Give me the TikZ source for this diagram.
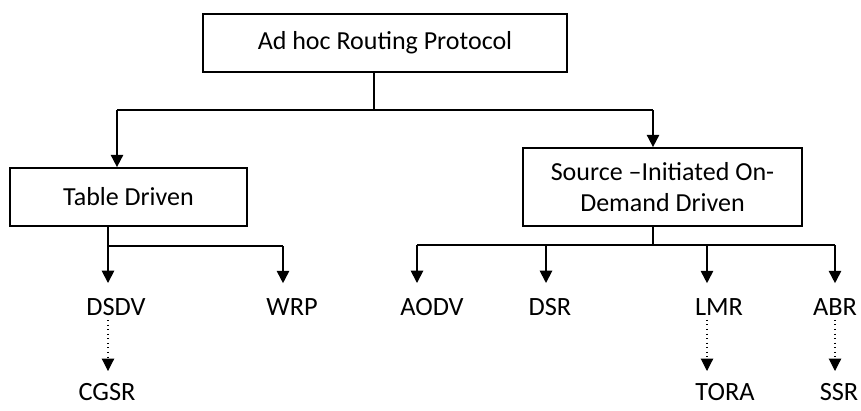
\documentclass[tikz,border=0pt]{standalone}
\usepackage{fontspec}
\setmainfont{Carlito}
\usetikzlibrary{arrows.meta}

\begin{document}
\begin{tikzpicture}[x=0.02cm,y=-0.02cm,
	box/.style={draw=black,line width=1pt,inner sep=0pt,align=center,font=\fontsize{14.8}{17.6}\selectfont},
	lbl/.style={inner sep=0pt,font=\fontsize{15}{18}\selectfont},
	line/.style={line width=1pt},
	arr/.style={line width=1pt,-{Triangle[width=7pt,length=7pt]},shorten >=0.3cm},
	dotarr/.style={line width=0.6pt,dotted,-{Triangle[width=7pt,length=7pt]},shorten <=0.08cm,shorten >=0.24cm}]
	\useasboundingbox (0,0) rectangle (861,410);

	\node[box,minimum width=7.28cm,minimum height=1.16cm] (root) at (385,43) {Ad hoc Routing Protocol};
	\node[box,minimum width=4.74cm,minimum height=1.16cm] (td) at (128.5,197) {Table Driven};
	\node[box,minimum width=5.58cm,minimum height=1.56cm] (src) at (662.5,187) {Source –Initiated On-\\Demand Driven};

	\node[lbl] (dsdv) at (116,307) {DSDV};
	\node[lbl] (wrp)  at (292,307) {WRP};
	\node[lbl] (aodv) at (432,307) {AODV};
	\node[lbl] (dsr)  at (550,307) {DSR};
	\node[lbl] (lmr)  at (719,307) {LMR};
	\node[lbl] (abr)  at (835,307) {ABR};
	\node[lbl] (cgsr) at (107,392) {CGSR};
	\node[lbl] (tora) at (725,392) {TORA};
	\node[lbl] (ssr)  at (839,392) {SSR};

	\coordinate (rootj) at (374,110);
	\coordinate (tdin)  at (117,110);
	\coordinate (srcin) at (653,110);
	\coordinate (tdj)   at (108,246);
	\coordinate (wrpj)  at (283,246);
	\coordinate (srcj)  at (653,245);
	\coordinate (aodvj) at (417,245);
	\coordinate (dsrj)  at (546,245);
	\coordinate (lmrj)  at (707,245);
	\coordinate (abrj)  at (835,245);

	\draw[line] (root.south -| rootj) -- (rootj);
	\draw[line] (tdin) -- (srcin);
	\draw[arr,shorten >=0pt] (tdin) -- (tdin |- td.north);
	\draw[arr,shorten >=0pt] (srcin) -- (srcin |- src.north);

	\draw[arr] (td.south -| tdj) -- (tdj |- dsdv.north);
	\draw[line] (tdj) -- (wrpj);
	\draw[arr] (wrpj) -- (wrpj |- wrp.north);

	\draw[line] (src.south -| srcj) -- (srcj);
	\draw[line] (aodvj) -- (abrj);
	\foreach \j/\n in {aodvj/aodv,dsrj/dsr,lmrj/lmr,abrj/abr}
		\draw[arr] (\j) -- (\j |- \n.north);

	\draw[dotarr] (dsdv.south -| tdj) -- (cgsr.north -| tdj);
	\draw[dotarr] (lmr.south -| lmrj) -- (tora.north -| lmrj);
	\draw[dotarr] (abr.south -| abrj) -- (ssr.north -| abrj);
\end{tikzpicture}
\end{document}
